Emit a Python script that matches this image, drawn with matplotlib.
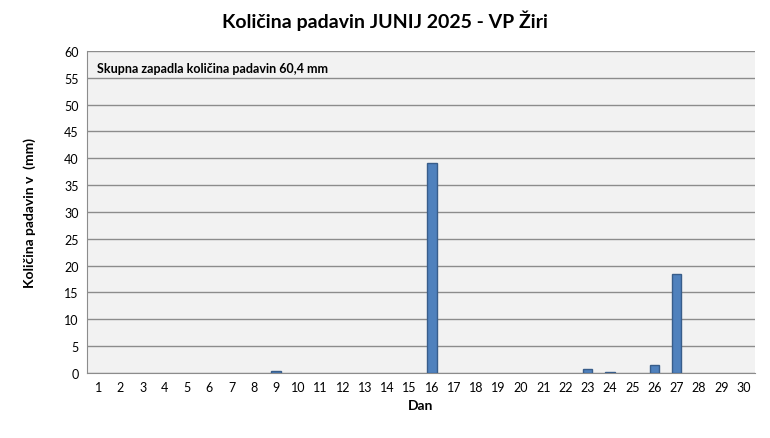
import matplotlib
matplotlib.use('Agg')
import matplotlib.pyplot as plt
import numpy as np

# Daily precipitation June 2025 (mm)
days = list(range(1, 31))
rain_days = [9, 16, 23, 24, 26, 27]
rain_mm = [0.4, 39.1, 0.8, 0.2, 1.5, 18.4]
total_mm = "60,4"

plt.rcParams['font.family'] = ['Lato', 'DejaVu Sans']

fig = plt.figure(figsize=(7.7, 4.39), dpi=100)
ax = fig.add_axes([0.113, 0.148, 0.867, 0.734])

# only days with rain get a visible bar (like the original)
ax.bar(rain_days, rain_mm, width=0.42, color='#4f81bd', edgecolor='#385d8a',
       linewidth=1, zorder=3)

ax.set_xlim(0.5, 30.5)
ax.set_ylim(0, 60)
ax.set_yticks(range(0, 61, 5))
ax.set_xticks(days)
ax.set_facecolor('#f2f2f2')
ax.grid(axis='y', color='#8c8c8c', linewidth=1, zorder=0)
for s in ['top', 'right']:
    ax.spines[s].set_visible(False)
for s in ['left', 'bottom']:
    ax.spines[s].set_color('#8c8c8c')
ax.tick_params(axis='both', length=0, labelsize=9, pad=6)

fig.suptitle('Količina padavin JUNIJ 2025 - VP Žiri', x=0.5, y=0.975,
             fontsize=14, fontweight='bold')
ax.set_xlabel('Dan', fontsize=10, fontweight='bold', labelpad=4)
ax.set_ylabel('Količina padavin v  (mm)', fontsize=10, fontweight='bold',
              labelpad=20)
ax.text(0.015, 0.965, f'Skupna zapadla količina padavin {total_mm} mm',
        transform=ax.transAxes, fontsize=9, fontweight='bold',
        va='top', ha='left')

fig.savefig('out.png', dpi=100)
